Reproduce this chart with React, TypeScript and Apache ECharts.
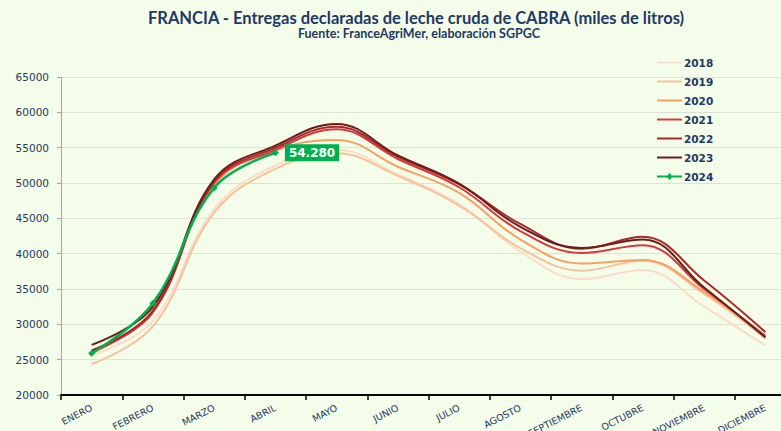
import React, { useEffect, useRef } from "react";
import * as echarts from "echarts";

const months = ["ENERO", "FEBRERO", "MARZO", "ABRIL", "MAYO", "JUNIO", "JULIO", "AGOSTO", "SEPTIEMBRE", "OCTUBRE", "NOVIEMBRE", "DICIEMBRE"];

const y2018 = [25600, 30500, 46300, 52500, 54700, 51200, 47000, 40300, 36400, 37700, 32500, 27000];
const y2019 = [24400, 29700, 45800, 52000, 54200, 51000, 46800, 40800, 37600, 39000, 34300, 28000];
const y2020 = [25900, 32000, 49700, 54600, 56100, 52300, 48600, 42000, 38600, 39100, 34600, 28200];
const y2021 = [26100, 31700, 50000, 54700, 57600, 53400, 49400, 43200, 40100, 41200, 35000, 28350];
const y2022 = [26300, 31900, 50200, 55000, 57950, 53700, 49800, 44200, 40700, 42400, 36200, 28900];
const y2023 = [27100, 32500, 50500, 55300, 58350, 53900, 49900, 43800, 40800, 42000, 35200, 28150];
const y2024 = [25900, 33000, 49300, 54280];

const seriesNames = ["2018", "2019", "2020", "2021", "2022", "2023", "2024"];
const seriesColors = ["#FBDCC6", "#F7C29B", "#F4A261", "#D63A3C", "#A82A2C", "#6E1B1B", "#00B050"];

const NAVY = "#1F3864";
const LINE_ICON = "path://M0,4 L25,4 L25,6 L0,6 Z";
const LINE_DIAMOND_ICON = "path://M0,4 L25,4 L25,6 L0,6 Z M12.5,1.5 L15.5,5 L12.5,8.5 L9.5,5 Z";

function fmt(v: number): string {
  return String(v).replace(/\B(?=(\d{3})+(?!\d))/g, ".");
}

export default function App() {
  const ref = useRef<HTMLDivElement>(null);
  useEffect(() => {
    if (!ref.current) return;
    const chart = echarts.init(ref.current, null, { renderer: "svg" });
    const past = [y2018, y2019, y2020, y2021, y2022, y2023];
    const series: any[] = past.map((d, i) => ({
      name: seriesNames[i],
      type: "line",
      data: d,
      smooth: 0.4,
      symbol: "none",
      lineStyle: { color: seriesColors[i], width: 2 },
      itemStyle: { color: seriesColors[i] },
      z: 2 + i,
    }));
    const last = y2024.length - 1;
    series.push({
      name: "2024",
      type: "line",
      smooth: 0.4,
      symbol: "diamond",
      symbolSize: 7,
      showSymbol: true,
      lineStyle: { color: seriesColors[6], width: 2.5 },
      itemStyle: { color: seriesColors[6] },
      z: 10,
      data: y2024.map((v, i) =>
        i === last
          ? {
              value: v,
              label: {
                show: true,
                position: "right",
                distance: 6,
                formatter: (p: any) => fmt(p.value),
                color: "#ffffff",
                backgroundColor: "#00B050",
                fontFamily: "DejaVu Sans",
                fontWeight: "bold",
                fontSize: 12,
                padding: [3, 4, 2, 4],
              },
            }
          : v
      ),
    });

    chart.setOption({
      animation: false,
      backgroundColor: "#F4FDEA",
      title: [
        {
          text: "FRANCIA - Entregas declaradas de leche cruda de CABRA (miles de litros)",
          left: 411,
          top: 4,
          textAlign: "center",
          textStyle: { color: NAVY, fontFamily: "Lato", fontWeight: "bold", fontSize: 16.5, lineHeight: 17 },
        },
        {
          text: "Fuente: FranceAgriMer, elaboración SGPGC",
          left: 414,
          top: 22,
          textAlign: "center",
          textStyle: { color: NAVY, fontFamily: "Lato", fontWeight: "bold", fontSize: 12.5, lineHeight: 13 },
        },
      ],
      legend: {
        orient: "vertical",
        left: 652,
        top: 52,
        itemWidth: 25,
        itemHeight: 10,
        itemGap: 8,
        data: seriesNames.map((n, i) => ({ name: n, icon: i === 6 ? LINE_DIAMOND_ICON : LINE_ICON })),
        textStyle: { color: NAVY, fontFamily: "DejaVu Sans", fontWeight: "bold", fontSize: 10.5, padding: [0, 0, 0, -3] },
      },
      grid: { left: 61, right: 4, top: 77, height: 318, outerBoundsMode: "none", containLabel: false },
      xAxis: {
        type: "category",
        data: months,
        boundaryGap: true,
        axisLine: { lineStyle: { color: "#000000", width: 2 } },
        axisTick: { show: true, length: 5, lineStyle: { color: "#000000", width: 1.5 } },
        axisLabel: {
          rotate: 27,
          interval: 0,
          color: NAVY,
          fontFamily: "DejaVu Sans",
          fontSize: 9.5,
          margin: 12,
        },
      },
      yAxis: {
        type: "value",
        min: 20000,
        max: 65000,
        interval: 5000,
        axisLine: { show: true, lineStyle: { color: "#A6A6A6", width: 1 } },
        axisTick: { show: true, length: 4, lineStyle: { color: "#A6A6A6" } },
        splitLine: { lineStyle: { color: "#DCE3D3", width: 1 } },
        axisLabel: {
          color: NAVY,
          fontFamily: "DejaVu Sans",
          fontSize: 10.5,
          margin: 12,
          formatter: (v: number) => String(v),
        },
      },
      series,
    });
    return () => chart.dispose();
  }, []);
  return (
    <div style={{ position: "absolute", left: 0, top: 0, width: 781, height: 431, overflow: "hidden" }}>
      <div ref={ref} style={{ width: 800, height: 431 }} />
    </div>
  );
}
